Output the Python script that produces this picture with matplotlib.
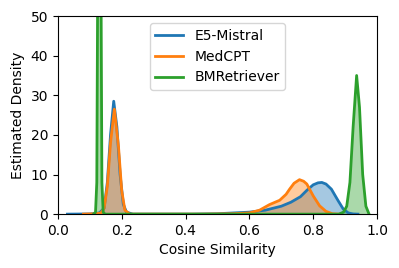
import matplotlib.pyplot as plt
import numpy as np

# density curves (x = cosine similarity, y = density)
e5_x = [0.03, 0.10, 0.13, 0.145, 0.155, 0.165, 0.175, 0.185, 0.195, 0.205, 0.215, 0.235,
        0.42, 0.50, 0.60, 0.65, 0.70, 0.73, 0.76, 0.78, 0.80, 0.815, 0.827, 0.84, 0.857,
        0.87, 0.878, 0.894, 0.91, 0.925, 0.94]
e5_y = [0.0, 0.05, 0.3, 1.5, 8.0, 20.0, 28.5, 22.0, 10.0, 2.5, 0.5, 0.0,
        0.0, 0.1, 0.5, 1.0, 2.0, 3.0, 4.4, 6.0, 7.4, 7.9, 8.0, 7.6, 6.3,
        4.5, 3.4, 1.3, 0.3, 0.05, 0.0]

medcpt_x = [0.08, 0.12, 0.135, 0.145, 0.155, 0.165, 0.177, 0.19, 0.20, 0.21, 0.225,
            0.45, 0.55, 0.60, 0.632, 0.663, 0.695, 0.715, 0.726, 0.74, 0.757, 0.77, 0.78,
            0.80, 0.82, 0.84, 0.86, 0.88]
medcpt_y = [0.0, 0.1, 0.3, 1.5, 7.0, 18.0, 26.5, 17.0, 6.0, 1.0, 0.0,
            0.0, 0.1, 0.3, 1.0, 2.4, 3.5, 5.0, 6.3, 7.8, 8.7, 8.3, 7.6,
            4.6, 2.1, 0.7, 0.1, 0.0]

bmr_x = [0.112, 0.118, 0.122, 0.126, 0.130, 0.134, 0.138, 0.142, 0.148,
         0.88, 0.895, 0.905, 0.915, 0.925, 0.936, 0.945, 0.955, 0.965, 0.975]
bmr_y = [0.0, 0.5, 8.0, 80.0, 160.0, 80.0, 8.0, 0.5, 0.0,
         0.0, 0.5, 2.0, 8.0, 22.0, 35.0, 27.0, 10.0, 2.0, 0.0]

series = [
    ("E5-Mistral", e5_x, e5_y, "#1f77b4"),
    ("MedCPT", medcpt_x, medcpt_y, "#ff7f0e"),
    ("BMRetriever", bmr_x, bmr_y, "#2ca02c"),
]

fig = plt.figure(figsize=(3.99, 2.68), dpi=100)
ax = fig.add_axes([0.145, 0.201, 0.8, 0.739])

for name, xs, ys, color in series:
    xs = np.array(xs)
    ys = np.array(ys)
    ax.fill_between(xs, 0, ys, color=color, alpha=0.4, linewidth=0)
    ax.plot(xs, ys, color=color, linewidth=2, label=name)

ax.set_xlim(0, 1)
ax.set_ylim(0, 50)
ax.set_xticks([0.0, 0.2, 0.4, 0.6, 0.8, 1.0])
ax.set_yticks([0, 10, 20, 30, 40, 50])
ax.tick_params(labelsize=10)
ax.set_xlabel("Cosine Similarity", fontsize=10)
ax.set_ylabel("Estimated Density", fontsize=10)
ax.legend(loc="upper center", fontsize=10)

fig.savefig("out.png", dpi=100)
